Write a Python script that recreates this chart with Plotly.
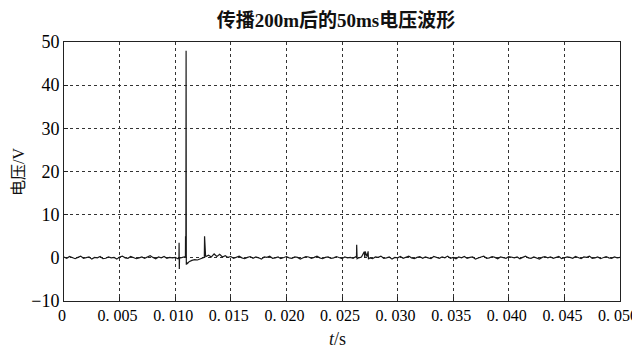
import plotly.graph_objects as go

# baseline samples every 0.25 ms (hand-read values, V)
base_step = 0.00025
base_v = [
    0.2, -0.1, 0.3, 0.0, -0.2, 0.1, 0.4, -0.1, 0.0, 0.2,
    -0.3, 0.1, 0.0, 0.3, -0.2, -0.1, 0.2, 0.0, 0.1, -0.3,
    0.2, 0.4, 0.0, -0.1, 0.3, 0.1, -0.2, 0.0, 0.2, -0.1,
    0.3, 0.5, 0.1, -0.2, 0.2, 0.0, 0.3, -0.1, 0.1, 0.0,
    # 0.010 - 0.01475
    0.1, -0.2, 0.0, 0.2, 0.1, -0.9, -0.6, -0.4, -0.5, -0.2,
    0.0, 0.3, 0.6, 0.2, 0.9, 0.3, 0.8, 0.2, 0.5, 0.1,
    # 0.015 -
    0.3, -0.1, 0.2, 0.4, 0.0, -0.2, 0.1, 0.3, -0.1, 0.2,
    0.0, -0.3, 0.2, 0.1, 0.4, -0.1, 0.0, 0.2, -0.2, 0.1,
    0.3, 0.0, -0.1, 0.2, 0.1, -0.3, 0.0, 0.3, 0.2, -0.1,
    0.1, 0.4, 0.0, -0.2, 0.1, 0.2, -0.1, 0.0, 0.3, 0.1,
    # 0.025 -
    -0.2, 0.2, 0.0, 0.1, -0.1, 0.3, 0.0, 0.2, 1.4, 0.3,
    0.0, -0.2, 0.2, 0.1, 0.4, -0.1, 0.0, 0.2, -0.3, 0.1,
    0.0, 0.3, -0.1, 0.2, 0.4, 0.0, -0.2, 0.1, 0.3, -0.1,
    0.2, 0.0, -0.2, 0.3, 0.1, -0.1, 0.2, 0.0, 0.4, -0.1,
    # 0.035 -
    0.1, -0.2, 0.2, 0.0, 0.3, -0.1, 0.1, 0.2, -0.3, 0.0,
    0.2, 0.4, -0.1, 0.0, 0.3, 0.1, -0.2, 0.2, 0.0, -0.1,
    0.3, 0.1, 0.0, 0.2, -0.2, 0.1, 0.4, 0.0, -0.1, 0.2,
    0.0, -0.3, 0.1, 0.3, 0.0, 0.2, -0.1, 0.1, 0.3, -0.2,
    # 0.045 - 0.050
    0.0, 0.2, 0.1, -0.1, 0.3, 0.0, -0.2, 0.2, 0.1, 0.4,
    -0.1, 0.0, 0.2, -0.2, 0.1, 0.3, 0.0, -0.1, 0.2, 0.0,
    0.1,
]
base_t = [round(i * base_step, 6) for i in range(len(base_v))]

# transient events (s, V)
event_t = [0.01034, 0.01035, 0.01037, 0.01039,
           0.01092, 0.01093, 0.01096, 0.01098, 0.01100, 0.01103, 0.01108,
           0.01262, 0.01264, 0.01267, 0.01270, 0.01273,
           0.02630, 0.02632, 0.02636,
           0.02705, 0.02708, 0.02735, 0.02738]
event_v = [0.1, 3.5, -2.6, 0.0,
           0.3, 5.0, 4.2, 48.0, -1.6, -1.0, -1.4,
           0.1, 5.0, 0.8, 4.0, 0.5,
           0.0, 3.0, -0.2,
           0.0, 1.5, 1.5, -0.3]

pairs = sorted(zip(base_t + event_t, base_v + event_v))
t = [p[0] for p in pairs]
v = [p[1] for p in pairs]

x_ticks = [0, 0.005, 0.010, 0.015, 0.020, 0.025, 0.030, 0.035, 0.040, 0.045, 0.050]
x_labels = ["0", "0. 005", "0. 010", "0. 015", "0. 020", "0. 025", "0. 030",
            "0. 035", "0. 040", "0. 045", "0. 050"]
y_ticks = [-10, 0, 10, 20, 30, 40, 50]
y_labels = ["−10", "0", "10", "20", "30", "40", "50"]

fig = go.Figure()
fig.add_trace(go.Scatter(x=t, y=v, mode="lines",
                         line=dict(color="#1a1a1a", width=1.2),
                         showlegend=False, hoverinfo="skip"))

serif = "Liberation Serif"
cjk = "Liberation Serif, Noto Sans CJK SC"
# page has an 8px body margin: figure is drawn 8px in from the top-left
fig.update_layout(
    width=632, height=341,
    margin=dict(l=56, r=20, t=34, b=48),
    paper_bgcolor="white", plot_bgcolor="white",
    title=dict(text="<b>传播200m后的50ms电压波形</b>", x=0.519, xref="container",
               xanchor="center", y=0.965, yref="container", yanchor="middle",
               font=dict(family=cjk, size=19, color="#111")),
    font=dict(family=cjk, color="#111"),
    annotations=[
        dict(text="<i>t</i>/s", x=0.492, y=-0.145, xref="paper", yref="paper",
             xanchor="center", yanchor="middle", showarrow=False,
             font=dict(size=18, family=serif, color="#111")),
        dict(text="电压/V", x=-0.082, y=0.5, xref="paper", yref="paper",
             xanchor="center", yanchor="middle", showarrow=False, textangle=-90,
             font=dict(size=16, family=cjk, color="#111")),
    ],
)
fig.update_xaxes(
    range=[0, 0.0500001], tickvals=x_ticks, ticktext=x_labels,
    tickfont=dict(size=16, family=serif, color="#000"),
    ticklabeloverflow="allow", ticklabelshift=-2,
    showgrid=True, gridcolor="#333", gridwidth=1, griddash="3px,3px",
    showline=True, linecolor="#222", linewidth=1, mirror=True,
    ticks="inside", ticklen=4, tickcolor="#222",
    zeroline=False, automargin=False,
)
fig.update_yaxes(
    range=[-10, 50], tickvals=y_ticks, ticktext=y_labels,
    tickfont=dict(size=18, family=serif, color="#000"),
    showgrid=True, gridcolor="#333", gridwidth=1, griddash="3px,3px",
    showline=True, linecolor="#222", linewidth=1, mirror=True,
    ticks="inside", ticklen=4, tickcolor="#222",
    zeroline=False, automargin=False,
)

fig.write_html("out.html")
